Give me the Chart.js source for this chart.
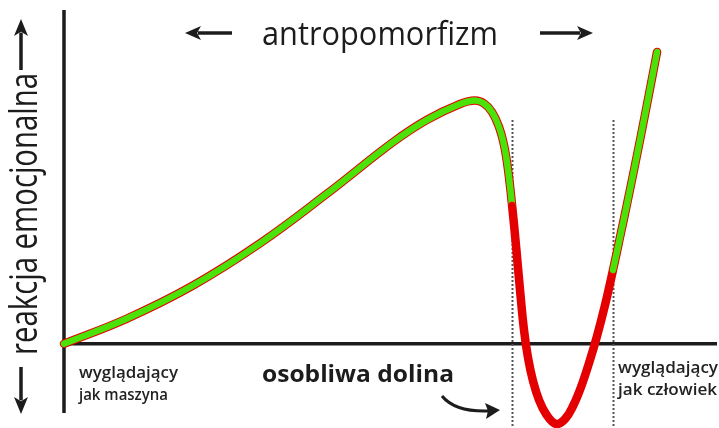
<!DOCTYPE html>
<html lang="pl">
<head>
<meta charset="utf-8">
<title>Dolina niesamowitości</title>
<script src="https://cdn.jsdelivr.net/npm/chart.js@4"></script>
<style>
  html, body { margin: 0; padding: 0; background: #fff; }
  #wrap { width: 719px; height: 428px; position: relative; }
</style>
</head>
<body>
<div id="wrap"><canvas id="valley"></canvas></div>
<script>
// human likeness (0 = machine) vs emotional response
const likeness = [0, 9.65, 19.75, 30.02, 40.28, 50.38, 55.59, 60.64, 62.94, 64.32, 65.54, 66.62,
  67.38, 68.0, 68.61, 69.22, 69.83, 70.44, 71.06, 71.82, 72.74, 73.81, 75.34, 76.72, 77.95,
  79.17, 80.4, 81.62, 82.85, 84.07, 85.15, 86.22, 88.21, 90.2, 90.81];
const response = [0, 7.77, 17.95, 30.96, 46.26, 62.15, 69.05, 73.93, 75.01, 74.08, 71.46, 66.83,
  61.28, 53.57, 42.78, 30.13, 16.56, 4.23, -4.41, -11.5, -17.36, -21.68, -24.76, -23.22, -19.21,
  -13.35, -5.95, 2.37, 11.94, 22.73, 32.91, 43.09, 62.83, 83.49, 89.96];
// where the valley (red part) begins and ends
const valleyBounds = [68.61, 84.07];

const yTitle = 'reakcja emocjonalna';
const topTitle = 'antropomorfizm';
const valleyTitle = 'osobliwa dolina';
const leftLabel = ['wyglądający', 'jak maszyna'];
const rightLabel = ['wyglądający', 'jak człowiek'];

const GREEN = '#4be20a';
const RED = '#e40000';
const INK = '#1c1c1c';

const points = likeness.map((x, i) => ({ x: x, y: response[i] }));
const inValley = ctx => ctx.p0.parsed.x >= valleyBounds[0] && ctx.p1.parsed.x <= valleyBounds[1];

// draw text squeezed/stretched to a given width
function fitText(ctx, text, x, y, width) {
  const w = ctx.measureText(text).width;
  ctx.save();
  ctx.translate(x, y);
  ctx.scale(width / w, 1);
  ctx.fillText(text, 0, 0);
  ctx.restore();
}

function arrow(ctx, x1, y1, x2, y2, head, half) {
  const a = Math.atan2(y2 - y1, x2 - x1);
  ctx.beginPath();
  ctx.moveTo(x1, y1);
  ctx.lineTo(x2 - Math.cos(a) * head * 0.8, y2 - Math.sin(a) * head * 0.8);
  ctx.stroke();
  ctx.beginPath();
  ctx.moveTo(x2, y2);
  ctx.lineTo(x2 - Math.cos(a) * head - Math.sin(a) * half, y2 - Math.sin(a) * head + Math.cos(a) * half);
  ctx.lineTo(x2 - Math.cos(a) * head * 0.75, y2 - Math.sin(a) * head * 0.75);
  ctx.lineTo(x2 - Math.cos(a) * head + Math.sin(a) * half, y2 - Math.sin(a) * head - Math.cos(a) * half);
  ctx.closePath();
  ctx.fill();
}

const decorations = {
  id: 'decorations',
  beforeDatasetsDraw(chart) {
    const ctx = chart.ctx;
    const xs = chart.scales.x, ys = chart.scales.y;
    const x0 = xs.getPixelForValue(0), y0 = ys.getPixelForValue(0);
    ctx.save();
    ctx.strokeStyle = INK;
    ctx.lineWidth = 3.5;
    ctx.beginPath();
    ctx.moveTo(x0, 10);
    ctx.lineTo(x0, 413);
    ctx.moveTo(x0, y0);
    ctx.lineTo(717, y0);
    ctx.stroke();

    // dotted bounds of the valley
    ctx.strokeStyle = '#555';
    ctx.lineWidth = 2;
    ctx.setLineDash([2, 2]);
    valleyBounds.forEach(v => {
      const px = Math.round(xs.getPixelForValue(v)) + 0.5;
      ctx.beginPath();
      ctx.moveTo(px, 120);
      ctx.lineTo(px, 428);
      ctx.stroke();
    });
    ctx.restore();
  },
  afterDraw(chart) {
    const ctx = chart.ctx;
    ctx.save();
    ctx.fillStyle = INK;
    ctx.strokeStyle = INK;
    ctx.textBaseline = 'alphabetic';
    ctx.textAlign = 'left';

    ctx.font = '500 33px "Open Sans"';
    fitText(ctx, topTitle, 262, 45, 236);
    ctx.lineWidth = 3.5;
    arrow(ctx, 232, 33, 185, 33, 16, 7);
    arrow(ctx, 540, 33, 593, 33, 16, 7);

    // y axis title, reading upwards
    ctx.save();
    ctx.translate(37, 355);
    ctx.rotate(-Math.PI / 2);
    ctx.font = '38px "Open Sans"';
    fitText(ctx, yTitle, 0, 0, 282);
    ctx.restore();
    arrow(ctx, 21, 70, 21, 19, 17, 7);
    arrow(ctx, 21, 367, 21, 414, 17, 7);

    ctx.font = 'bold 24px "Open Sans"';
    fitText(ctx, valleyTitle, 262, 382, 192);

    ctx.fillStyle = '#222';
    ctx.font = '600 16px "Open Sans"';
    fitText(ctx, leftLabel[0], 79, 378, 99);
    fitText(ctx, leftLabel[1], 79, 400, 89);
    fitText(ctx, rightLabel[0], 618, 373, 100);
    fitText(ctx, rightLabel[1], 618, 395, 99);

    // curved pointer to the valley
    ctx.fillStyle = INK;
    ctx.lineWidth = 3;
    ctx.beginPath();
    ctx.moveTo(442, 396);
    ctx.quadraticCurveTo(455, 412, 488, 411);
    ctx.stroke();
    ctx.beginPath();
    ctx.moveTo(500, 410);
    ctx.lineTo(485, 403);
    ctx.lineTo(488, 411);
    ctx.lineTo(486, 419);
    ctx.closePath();
    ctx.fill();
    ctx.restore();
  }
};

const curveStyle = {
  data: points,
  tension: 0.4,
  pointRadius: 0,
  borderCapStyle: 'round',
  borderJoinStyle: 'round',
  clip: false
};

new Chart('valley', {
  type: 'line',
  data: {
    datasets: [
      Object.assign({}, curveStyle, {
        order: 1,
        borderWidth: 6.5,
        borderColor: GREEN,
        segment: { borderColor: ctx => inValley(ctx) ? RED : GREEN }
      }),
      Object.assign({}, curveStyle, {
        order: 2,
        borderWidth: 8.5,
        borderColor: RED
      })
    ]
  },
  options: {
    responsive: true,
    maintainAspectRatio: false,
    animation: false,
    layout: { padding: 0 },
    scales: {
      x: { type: 'linear', display: false, min: -9.8, max: 100.3 },
      y: { type: 'linear', display: false, min: -26, max: 106 }
    },
    plugins: {
      legend: { display: false },
      tooltip: { enabled: false }
    }
  },
  plugins: [decorations]
});
</script>
</body>
</html>
